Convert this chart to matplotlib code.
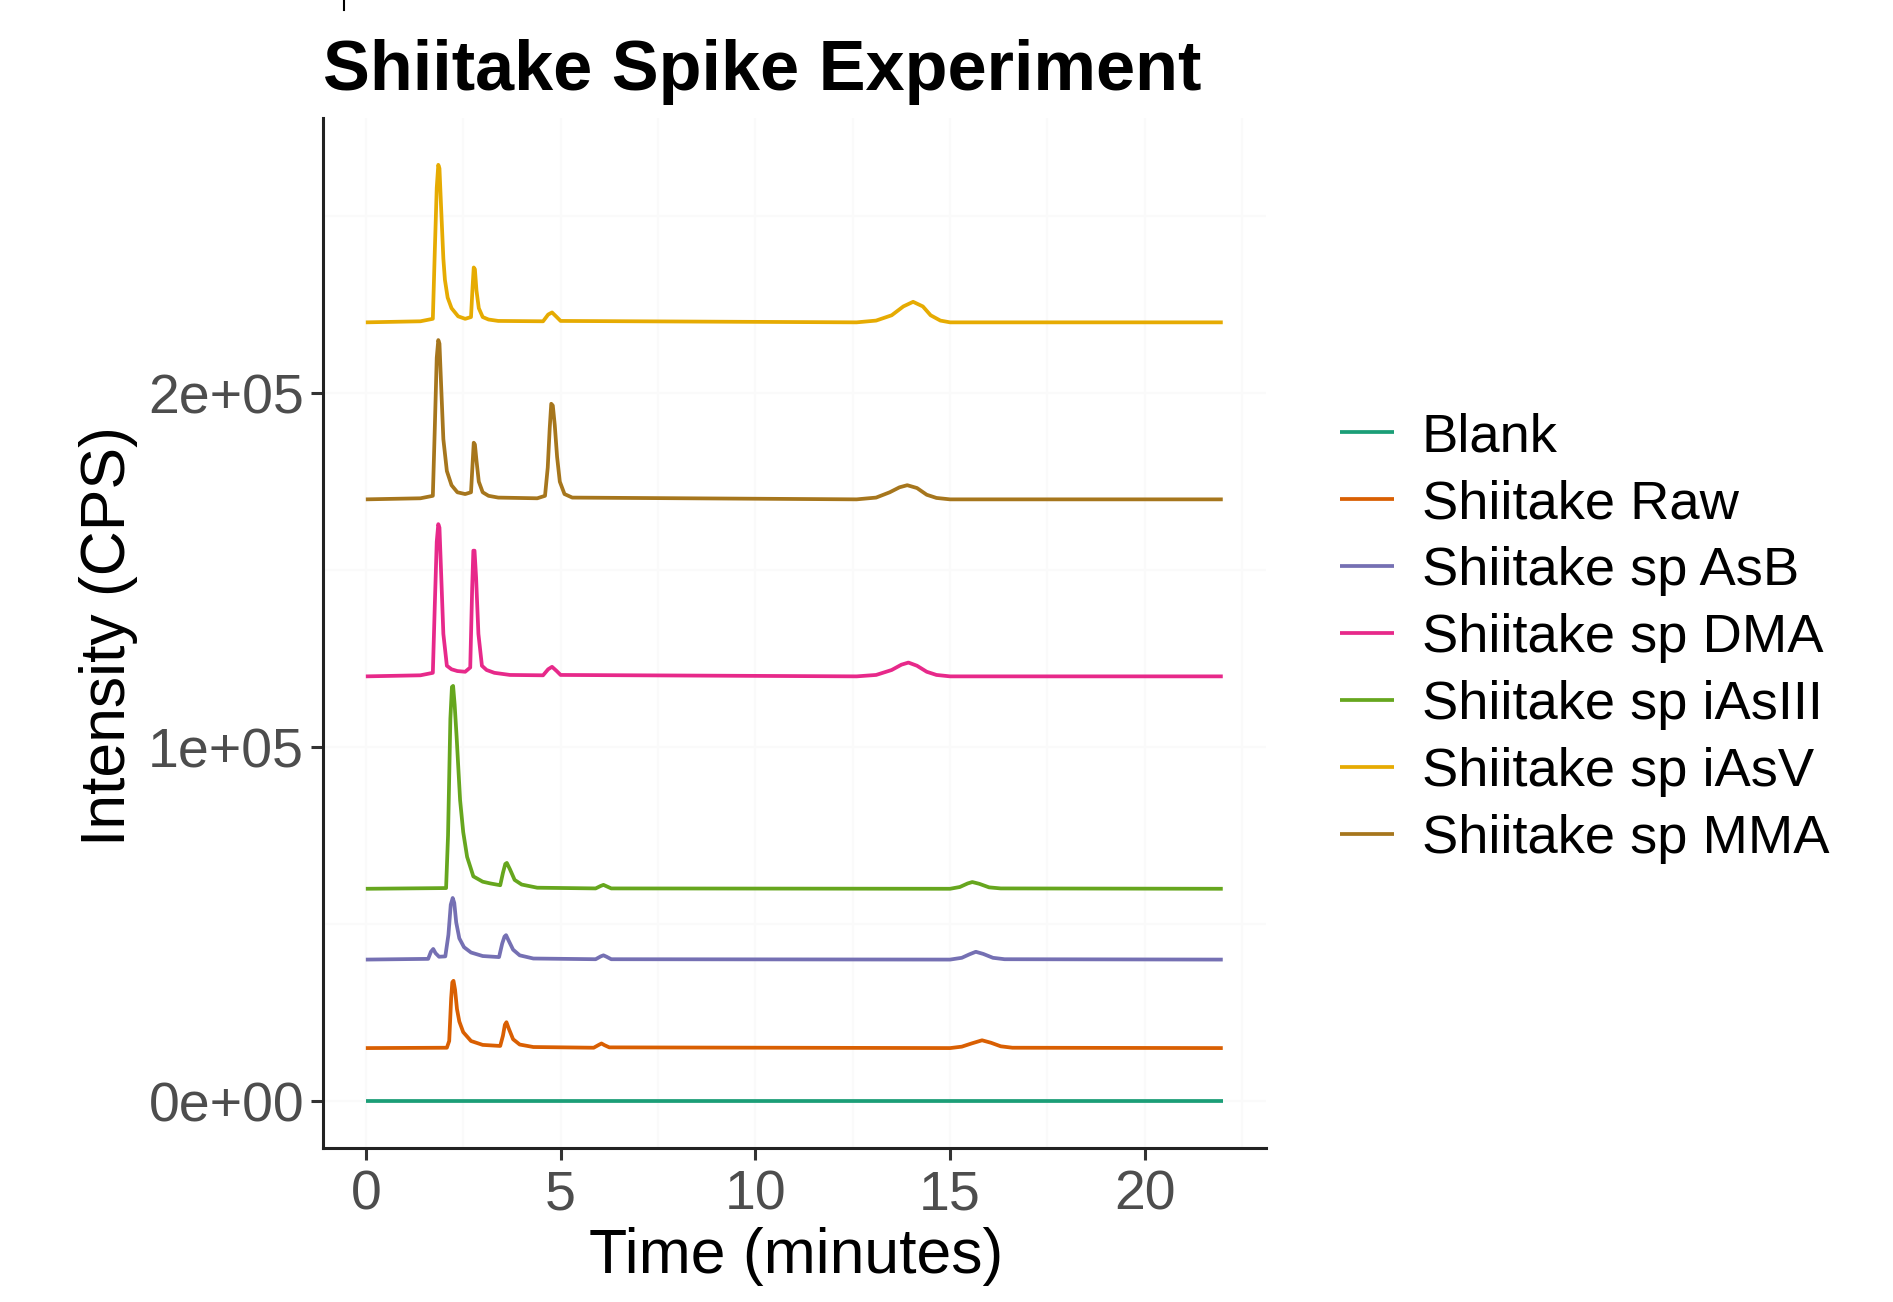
import numpy as np
import matplotlib
matplotlib.use('Agg')
import matplotlib.pyplot as plt
from matplotlib.lines import Line2D

plt.rcParams['font.family'] = ['Liberation Sans', 'DejaVu Sans']

# chromatogram traces (time in minutes, intensity in CPS, already offset)
blank_t = [0, 22]
blank_y = [0, 0]

raw_t = [0, 2.08, 2.14, 2.19, 2.22, 2.25, 2.29, 2.34, 2.40, 2.5, 2.7, 3.0, 3.45, 3.52, 3.57, 3.61, 3.67, 3.78,
         3.95, 4.3, 5.85, 5.98, 6.05, 6.13, 6.25, 15.0, 15.3, 15.55, 15.82, 16.05, 16.3, 16.6, 22]
raw_y = [15000, 15100, 17000, 29000, 33600, 34000, 31500, 26000, 22500, 19500, 17000, 15900, 15600, 18500, 21600,
         22300, 20500, 17500, 16000, 15300, 15100, 15900, 16300, 15800, 15200, 15000, 15400, 16300, 17200, 16500,
         15500, 15100, 15000]

asb_t = [0, 1.6, 1.67, 1.73, 1.79, 1.88, 2.04, 2.12, 2.18, 2.23, 2.27, 2.32, 2.4, 2.52, 2.7, 3.0, 3.42, 3.5, 3.56,
         3.6, 3.66, 3.78, 3.95, 4.3, 5.9, 6.03, 6.1, 6.18, 6.3, 15.0, 15.3, 15.5, 15.66, 15.85, 16.1, 16.4, 22]
asb_y = [40000, 40200, 42200, 43000, 41800, 40800, 40900, 47000, 55500, 57400, 56000, 50500, 46000, 43500, 42000,
         41000, 40700, 44500, 46500, 46900, 45500, 42800, 41200, 40300, 40100, 40900, 41200, 40800, 40100, 40000,
         40500, 41500, 42200, 41600, 40500, 40100, 40000]

dma_t = [0, 1.4, 1.72, 1.77, 1.82, 1.86, 1.89, 1.93, 1.99, 2.08, 2.2, 2.35, 2.55, 2.68, 2.73, 2.76, 2.79, 2.83,
         2.89, 2.98, 3.1, 3.3, 3.7, 4.55, 4.68, 4.78, 4.9, 5.0, 12.6, 13.1, 13.5, 13.75, 13.93, 14.15, 14.4, 14.65,
         15.0, 22]
dma_y = [120000, 120300, 121000, 140000, 158000, 163000, 162000, 150000, 132000, 123000, 122000, 121500, 121300,
         122500, 145000, 155500, 155500, 148000, 132000, 123000, 121800, 121000, 120400, 120300, 122000, 122700,
         121500, 120400, 120000, 120400, 121800, 123300, 123900, 123000, 121300, 120400, 120000, 120000]

ias3_t = [0, 2.06, 2.11, 2.17, 2.21, 2.24, 2.28, 2.33, 2.42, 2.5, 2.6, 2.76, 3.0, 3.2, 3.45, 3.52, 3.58, 3.62,
          3.7, 3.82, 4.0, 4.4, 5.9, 6.03, 6.1, 6.18, 6.3, 15.0, 15.25, 15.45, 15.57, 15.75, 16.0, 16.3, 22]
ias3_y = [60000, 60200, 75000, 108000, 117000, 117300, 112000, 103000, 85000, 76000, 69000, 63500, 62000, 61500,
          61000, 64500, 67000, 67300, 65500, 62500, 61200, 60300, 60100, 60800, 61100, 60700, 60100, 60000, 60500,
          61500, 61900, 61400, 60400, 60100, 60000]

ias5_t = [0, 1.4, 1.72, 1.77, 1.82, 1.86, 1.89, 1.93, 1.99, 2.03, 2.1, 2.2, 2.37, 2.55, 2.7, 2.74, 2.77, 2.8,
          2.84, 2.9, 3.0, 3.15, 3.4, 4.55, 4.68, 4.78, 4.9, 5.0, 12.6, 13.1, 13.5, 13.8, 14.05, 14.3, 14.5, 14.75,
          15.0, 22]
ias5_y = [220000, 220300, 221000, 240000, 258000, 264500, 263500, 253000, 238000, 232000, 227000, 224000, 221700,
          221000, 221500, 230000, 235500, 235000, 229000, 224000, 221500, 220800, 220400, 220300, 222200, 222800,
          221500, 220400, 220000, 220500, 222000, 224500, 225800, 224500, 222000, 220500, 220000, 220000]

mma_t = [0, 1.4, 1.72, 1.77, 1.82, 1.86, 1.89, 1.93, 1.99, 2.08, 2.2, 2.35, 2.55, 2.7, 2.74, 2.77, 2.8, 2.84, 2.9,
         3.0, 3.15, 3.4, 4.4, 4.6, 4.67, 4.72, 4.76, 4.8, 4.85, 4.91, 4.98, 5.1, 5.3, 12.6, 13.1, 13.45, 13.7,
         13.9, 14.15, 14.4, 14.65, 15.0, 22]
mma_y = [170000, 170300, 171000, 190000, 210000, 215000, 214000, 203000, 187000, 178000, 174000, 172000, 171500,
         172000, 180000, 186000, 185500, 181000, 175000, 172000, 171000, 170500, 170300, 171000, 179000, 190000,
         197000, 196500, 191000, 182000, 175000, 171500, 170500, 170000, 170500, 172000, 173400, 174000, 173200,
         171300, 170400, 170000, 170000]

labels = ['Blank', 'Shiitake Raw', 'Shiitake sp AsB', 'Shiitake sp DMA',
          'Shiitake sp iAsIII', 'Shiitake sp iAsV', 'Shiitake sp MMA']
series_t = [blank_t, raw_t, asb_t, dma_t, ias3_t, ias5_t, mma_t]
series_y = [blank_y, raw_y, asb_y, dma_y, ias3_y, ias5_y, mma_y]
colors = ['#1B9E77', '#D95F02', '#7570B3', '#E7298A', '#66A61E', '#E6AB02', '#A6761D']

W, H = 1893, 1302
fig = plt.figure(figsize=(W / 100, H / 100), dpi=100)
fig.patch.set_facecolor('white')

# axes box measured in pixels
ax = fig.add_axes([323 / W, 1 - 1148 / H, (1265.6 - 323) / W, (1148 - 118) / H])

handles = []
for t, y, c, lab in zip(series_t, series_y, colors, labels):
    ln, = ax.plot(t, y, color=c, lw=2.7, label=lab, solid_joinstyle='round', solid_capstyle='butt')
    handles.append(ln)

# ggplot style 5% expansion
all_y = np.concatenate([np.asarray(v, float) for v in series_y])
all_t = np.concatenate([np.asarray(v, float) for v in series_t])
yr = all_y.max() - all_y.min()
tr = all_t.max() - all_t.min()
ax.set_xlim(all_t.min() - 0.05 * tr, all_t.max() + 0.05 * tr)
ax.set_ylim(all_y.min() - 0.05 * yr, all_y.max() + 0.05 * yr)

ax.set_xticks([0, 5, 10, 15, 20])
ax.set_yticks([0, 100000, 200000])
ax.set_yticklabels([f"{v:.0e}" for v in [0, 100000, 200000]])
ax.set_xticks([2.5, 7.5, 12.5, 17.5, 22.5], minor=True)
ax.set_yticks([50000, 150000, 250000], minor=True)
ax.grid(which='both', color='#FAFAFA', lw=1.5)
ax.set_axisbelow(True)

for s in ['top', 'right']:
    ax.spines[s].set_visible(False)
for s in ['left', 'bottom']:
    ax.spines[s].set_color('#222222')
    ax.spines[s].set_linewidth(2.2)

ax.tick_params(which='major', length=8.5, width=2.2, color='#333333', labelcolor='#4D4D4D',
               labelsize=40, pad=5)
ax.tick_params(which='minor', length=0)
ax.tick_params(axis='x', pad=7)

fig.text(323 / W, 1 - 90 / H, 'Shiitake Spike Experiment', fontsize=50.6, fontweight='bold',
         ha='left', va='baseline')
fig.text(796 / W, 1 - 1256 / H, 'Time (minutes)', fontsize=45, ha='center', va='center')
fig.text(109 / W, 1 - 636 / H, 'Intensity (CPS)', fontsize=45, ha='center', va='center', rotation=90)

# small stray mark at the top edge
fig.add_artist(Line2D([344 / W, 344 / W], [1, 1 - 10 / H], color='black', lw=1.5))

fig.legend(handles, labels, loc='center left', bbox_to_anchor=(1340 / W, 1 - 638 / H),
           frameon=False, fontsize=39.2, handlelength=1.0, handletextpad=0.5,
           labelspacing=0.31, borderpad=0, borderaxespad=0)

fig.savefig('out.png', dpi=100, facecolor='white')
